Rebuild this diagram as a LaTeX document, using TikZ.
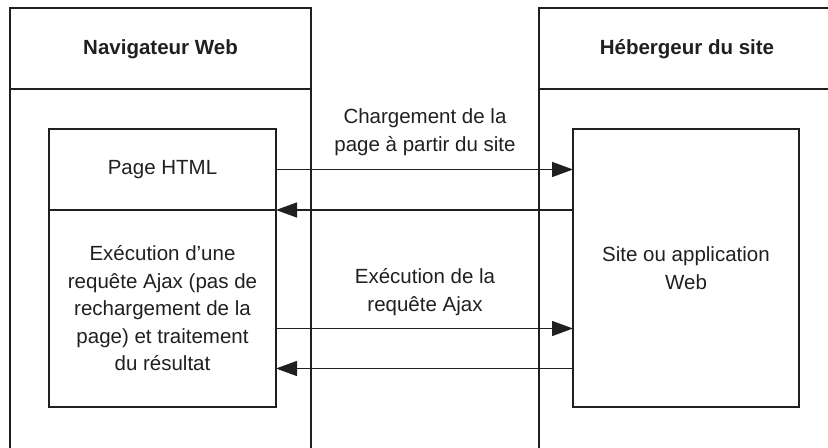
\documentclass[tikz,border=0pt]{standalone}
\usepackage{fontspec}
\setmainfont{Liberation Sans}
\usepackage{xcolor}
\usepackage{tikz}
\usetikzlibrary{arrows.meta,positioning}
\definecolor{ink}{HTML}{231F20}
\tikzset{
  px/.style={x=0.5pt, y=-0.5pt, font=\fontsize{10.25}{13.75}\selectfont, line width=0.65pt, draw=ink, text=ink},
  w box/.style={draw=ink, rectangle, align=center, inner sep=0pt, outer sep=0pt},
  w head/.style={font=\fontsize{10.25}{13.75}\selectfont\bfseries, align=center},
  w note/.style={align=center},
  w arr/.style={draw=ink, -{Triangle[length=10.5pt, width=7.5pt]}},
}

\begin{document}
\begin{tikzpicture}[px]
\clip (0,0) rectangle (828,448);
\fill[white] (0,0) rectangle (828,448);
% lanes
\draw (10,452) |- (311,8) -- (311,452); \draw (10,89) -- (311,89);
\draw (539,452) |- (840,8) -- (840,452); \draw (539,89) -- (840,89);
\node[w head] (nav) at (160.5,49) {Navigateur Web};
\node[w head] (host) at (687,49) {Hébergeur du site};
% boxes
\node[w box, minimum width=113.5pt, minimum height=40.5pt] (page) at (162.5,169.5) {Page HTML};
\node[w box, minimum width=113.5pt, minimum height=98.5pt, below=0pt of page] (ajax) {Exécution d’une\\requête Ajax (pas de\\rechargement de la\\page) et traitement\\du résultat};
\node[w box, minimum width=113pt, minimum height=139pt] (site) at (686,268) {Site ou application\\Web};
% messages
\draw[w arr] (page.east) -- (page.east -| site.west);
\draw[w arr] (page.south east -| site.west) -- (page.south east);
\draw[w arr] ([yshift=-10pt]ajax.east) -- ([yshift=-10pt]ajax.east -| site.west);
\draw[w arr] ([yshift=-30pt]ajax.east -| site.west) -- ([yshift=-30pt]ajax.east);
\node[w note] (load) at (425,132) {Chargement de la\\page à partir du site};
\node[w note] (req) at (425,292) {Exécution de la\\requête Ajax};
\end{tikzpicture}
\end{document}
